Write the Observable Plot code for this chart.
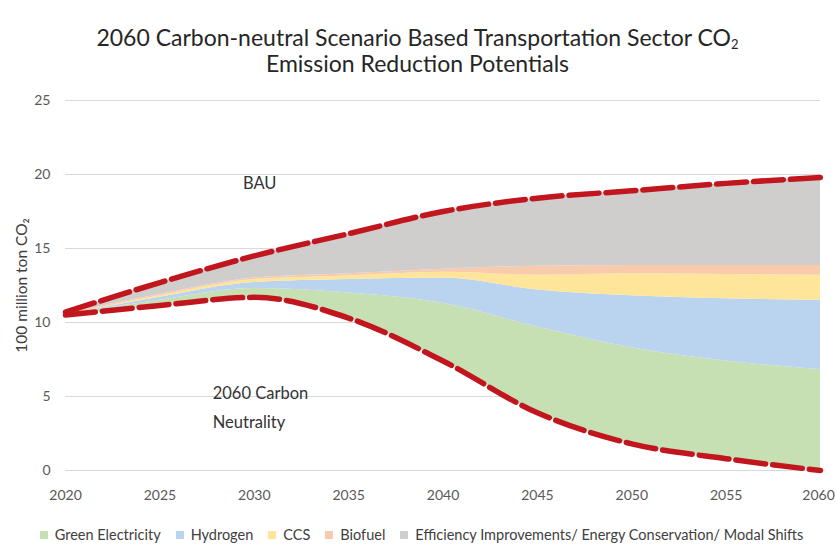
<!DOCTYPE html>
<html>
<head>
<meta charset="utf-8">
<script src="https://cdn.jsdelivr.net/npm/d3@7"></script>
<script src="https://cdn.jsdelivr.net/npm/@observablehq/plot@0.6"></script>
<style>
  html, body { margin: 0; padding: 0; background: #ffffff; }
  body { width: 835px; height: 546px; overflow: hidden; font-family: Lato, "Open Sans", sans-serif; }
  #title { text-align: center; color: #262626; font-size: 23px; line-height: 26px; padding-top: 24px; height: 61px; box-sizing: content-box; }
  #title sub { font-size: 13px; vertical-align: -3px; line-height: 0; }
  #legend { display: flex; justify-content: center; align-items: center; gap: 15px; font-size: 14.5px; color: #404040; margin-top: 21px; padding-left: 8px; }
  #legend .item { display: flex; align-items: center; gap: 7px; }
  #legend .sw { width: 8px; height: 8px; display: inline-block; }
  g[aria-label="y-axis label"] text { font-size: 15.5px; fill: #404040; }
</style>
</head>
<body>
<div id="title">2060 Carbon-neutral Scenario Based Transportation Sector CO<sub>2</sub><br>Emission Reduction Potentials</div>
<div id="chart"></div>
<div id="legend"></div>
<script>
// Years of the scenario
const years = [2020, 2025, 2030, 2035, 2040, 2045, 2050, 2055, 2060];

// Emission pathways (100 million ton CO2)
const bau        = [10.7, 12.7, 14.5, 16.0, 17.5, 18.4, 18.9, 19.4, 19.8];
const neutrality = [10.5, 11.15, 11.7, 10.3, 7.4, 3.9, 1.8, 0.8, 0.0];

// Reduction potential of each measure, stacked on top of the neutrality pathway
const greenElectricity = [0, 0.35, 0.6, 1.7, 3.9, 5.8, 6.5, 6.6, 6.8];
const hydrogen         = [0, 0.2, 0.4, 0.9, 1.7, 2.5, 3.5, 4.2, 4.7];
const ccs              = [0, 0.1, 0.2, 0.25, 0.4, 1.0, 1.5, 1.65, 1.7];
const biofuel          = [0.1, 0.1, 0.1, 0.15, 0.2, 0.6, 0.55, 0.6, 0.65];
const efficiency       = [0.1, 0.8, 1.5, 2.7, 3.9, 4.6, 5.05, 5.55, 5.95];

const measures = [
  "Green Electricity",
  "Hydrogen",
  "CCS",
  "Biofuel",
  "Efficiency Improvements/ Energy Conservation/ Modal Shifts"
];
const measureValues = [greenElectricity, hydrogen, ccs, biofuel, efficiency];
const measureColors = ["#c6e0b4", "#bad3ee", "#fee59a", "#f8cbad", "#d0cdcd"];

const yTicks = [0, 5, 10, 15, 20, 25];
const xTicks = years;

// Text annotations
const annotations = [
  {year: 2029.4, value: 19.65, text: "BAU"},
  {year: 2027.8, value: 4.45, text: "2060 Carbon\nNeutrality"}
];

// Tidy table for the stacked areas; the neutrality pathway is an invisible base layer
const BASE = "base";
const stackRows = [];
years.forEach((year, i) => {
  stackRows.push({year, measure: BASE, value: neutrality[i]});
  measures.forEach((m, k) => stackRows.push({year, measure: m, value: measureValues[k][i]}));
});

const pathRows = years.map((year, i) => ({year, bau: bau[i], neutral: neutrality[i]}));

const red = "#c2161f";
const lastTick = xTicks[xTicks.length - 1];

const chart = Plot.plot({
  width: 835,
  height: 420,
  marginLeft: 65,
  marginRight: 15,
  marginTop: 15,
  marginBottom: 35,
  style: {fontFamily: "Lato, 'Open Sans', sans-serif", fontSize: "14px", color: "#595959", background: "#ffffff"},
  x: {domain: [2020, 2060]},
  y: {domain: [0, 25]},
  color: {domain: [BASE, ...measures], range: ["transparent", ...measureColors]},
  marks: [
    Plot.gridY(yTicks, {stroke: "#d9d9d9", strokeOpacity: 1, strokeWidth: 1.2}),
    Plot.areaY(stackRows, {
      x: "year", y: "value", fill: "measure",
      order: [BASE, ...measures],
      curve: "monotone-x"
    }),
    Plot.lineY(pathRows, {x: "year", y: "neutral", stroke: red, strokeWidth: 5.5, strokeDasharray: "30,7", curve: "monotone-x"}),
    Plot.lineY(pathRows, {x: "year", y: "bau", stroke: red, strokeWidth: 5.5, strokeDasharray: "30,7", curve: "monotone-x"}),
    Plot.text(annotations, {
      x: "year", y: "value", text: "text",
      textAnchor: "start", lineAnchor: "middle", lineHeight: 1.75,
      fontSize: 16.5, fill: "#333333"
    }),
    Plot.axisY(yTicks, {
      tickSize: 0, tickPadding: 15, fontSize: 14,
      label: "100 million ton CO₂", labelAnchor: "center", labelOffset: 50, labelArrow: "none"
    }),
    Plot.axisX(xTicks.filter((t) => t !== lastTick), {
      tickSize: 0, tickPadding: 20, tickFormat: "d", fontSize: 14, label: null
    }),
    // last year label nudged inward so it stays inside the page edge
    Plot.axisX([lastTick], {
      tickSize: 0, tickPadding: 20, tickFormat: "d", fontSize: 14, label: null, dx: -2
    })
  ]
});
document.getElementById("chart").appendChild(chart);

// Legend below the chart
const legend = document.getElementById("legend");
measures.forEach((m, k) => {
  const item = document.createElement("span");
  item.className = "item";
  const sw = document.createElement("span");
  sw.className = "sw";
  sw.style.background = measureColors[k];
  const label = document.createElement("span");
  label.textContent = m;
  item.append(sw, label);
  legend.append(item);
});
</script>
</body>
</html>
